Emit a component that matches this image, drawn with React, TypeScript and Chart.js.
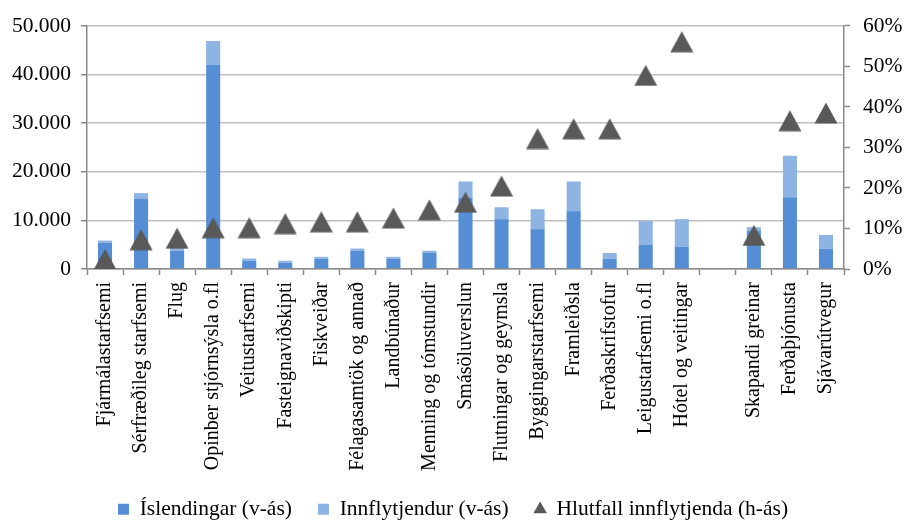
import React, { useEffect, useRef } from "react";
import { Chart, registerables } from "chart.js";

Chart.register(...registerables);

const categories: string[] = [
  "Fjármálastarfsemi",
  "Sérfræðileg starfsemi",
  "Flug",
  "Opinber stjórnsýsla o.fl",
  "Veitustarfsemi",
  "Fasteignaviðskipti",
  "Fiskveiðar",
  "Félagasamtök og annað",
  "Landbúnaður",
  "Menning og tómstundir",
  "Smásöluverslun",
  "Flutningar og geymsla",
  "Byggingarstarfsemi",
  "Framleiðsla",
  "Ferðaskrifstofur",
  "Leigustarfsemi o.fl",
  "Hótel og veitingar",
  "",
  "Skapandi greinar",
  "Ferðaþjónusta",
  "Sjávarútvegur",
];

const islendingar: (number | null)[] = [
  5400, 14400, 3800, 42000, 1700, 1300, 2100, 3800, 2100, 3300, 14700,
  10250, 8200, 11900, 2100, 4950, 4550, null, 7800, 14750, 4150,
];

const innflytjendur: (number | null)[] = [
  450, 1200, 500, 4900, 450, 400, 400, 400, 400, 450, 3300,
  2450, 4100, 6100, 1200, 4900, 5700, null, 800, 8550, 2850,
];

const hlutfall: (number | null)[] = [
  0.024, 0.0725, 0.076, 0.102, 0.102, 0.112, 0.1165, 0.1165, 0.126, 0.146, 0.165,
  0.205, 0.322, 0.346, 0.346, 0.478, 0.561, null, 0.083, 0.366, 0.385,
];

const leftTicks = { min: 0, max: 50000, step: 10000 };
const rightTicks = { min: 0, max: 0.6, step: 0.1 };

const seriesNames = [
  "Íslendingar (v-ás)",
  "Innflytjendur (v-ás)",
  "Hlutfall innflytjenda (h-ás)",
];

const DARK = "#558ED5";
const LIGHT = "#8DB4E2";
const TRI = "#595959";
const AXIS = "#898989";
const GRID = "#C0C0C0";
const FONT = "'Liberation Serif', 'Times New Roman', serif";

function makeTriangle(): HTMLCanvasElement {
  const c = document.createElement("canvas");
  c.width = 24;
  c.height = 22;
  const g = c.getContext("2d")!;
  g.fillStyle = TRI;
  g.beginPath();
  g.moveTo(12, 0.5);
  g.lineTo(23.5, 21.5);
  g.lineTo(0.5, 21.5);
  g.closePath();
  g.fill();
  return c;
}

function fmtThousands(v: number): string {
  return String(Math.round(v)).replace(/\B(?=(\d{3})+(?!\d))/g, ".");
}

export default function App() {
  const ref = useRef<HTMLCanvasElement | null>(null);

  useEffect(() => {
    if (!ref.current) return;
    const tri = makeTriangle();
    const chart = new Chart(ref.current, {
      type: "bar",
      data: {
        labels: categories,
        datasets: [
          {
            type: "bar",
            label: seriesNames[0],
            data: islendingar,
            backgroundColor: DARK,
            yAxisID: "y",
            stack: "s",
            order: 1,
            barPercentage: 0.39,
            categoryPercentage: 1,
          },
          {
            type: "bar",
            label: seriesNames[1],
            data: innflytjendur,
            backgroundColor: LIGHT,
            yAxisID: "y",
            stack: "s",
            order: 1,
            barPercentage: 0.39,
            categoryPercentage: 1,
          },
          {
            type: "line",
            label: seriesNames[2],
            data: hlutfall,
            yAxisID: "y1",
            showLine: false,
            pointStyle: tri as any,
            pointRadius: 12,
            pointHoverRadius: 12,
            backgroundColor: TRI,
            borderColor: TRI,
            order: 0,
          } as any,
        ],
      },
      options: {
        animation: false,
        responsive: true,
        maintainAspectRatio: false,
        layout: { padding: { top: 14, right: 0, left: 0, bottom: 0 } },
        plugins: {
          tooltip: { enabled: false },
          legend: {
            position: "bottom",
            labels: {
              font: { family: FONT, size: 21.5 },
              color: "#000",
              padding: 26,
              usePointStyle: true,
              boxWidth: 11,
              boxHeight: 11,
              generateLabels: (ch: any) =>
                ch.data.datasets.map((ds: any, i: number) => ({
                  text: ds.label,
                  fillStyle: i === 0 ? DARK : i === 1 ? LIGHT : TRI,
                  strokeStyle: i === 0 ? DARK : i === 1 ? LIGHT : TRI,
                  lineWidth: 0,
                  pointStyle: i === 2 ? "triangle" : "rect",
                  hidden: false,
                  datasetIndex: i,
                  fontColor: "#000",
                })),
            },
          },
        },
        scales: {
          x: {
            stacked: true,
            offset: true,
            grid: {
              display: true,
              offset: true,
              drawOnChartArea: false,
              drawTicks: true,
              tickLength: 6,
              tickColor: AXIS,
              tickWidth: 1.5,
            },
            border: { display: true, color: AXIS, width: 1.5 },
            ticks: {
              autoSkip: false,
              minRotation: 90,
              maxRotation: 90,
              padding: 7,
              color: "#000",
              font: { family: FONT, size: 20 },
            },
            afterFit: (s: any) => {
              s.height = 203.5;
            },
          },
          y: {
            stacked: true,
            position: "left",
            min: leftTicks.min,
            max: leftTicks.max,
            ticks: {
              stepSize: leftTicks.step,
              color: "#000",
              padding: 10,
              font: { family: FONT, size: 21.5 },
              callback: (v: any) => fmtThousands(Number(v)),
            },
            grid: {
              color: GRID,
              lineWidth: 1.5,
              borderDash: [9, 4],
              drawTicks: true,
              tickLength: 6,
              tickColor: AXIS,
              tickWidth: 1.5,
              tickBorderDash: [],
            } as any,
            border: { display: true, color: AXIS, width: 1.5 },
            afterFit: (s: any) => {
              s.width = 87;
            },
          },
          y1: {
            position: "right",
            min: rightTicks.min,
            max: rightTicks.max,
            ticks: {
              stepSize: rightTicks.step,
              color: "#000",
              padding: 13,
              font: { family: FONT, size: 21.5 },
              callback: (v: any) => Math.round(Number(v) * 100) + "%",
            },
            grid: {
              drawOnChartArea: false,
              drawTicks: true,
              tickLength: 6,
              tickColor: AXIS,
              tickWidth: 1.5,
            },
            border: { display: true, color: AXIS, width: 1.5 },
            afterFit: (s: any) => {
              s.width = 62;
            },
          },
        },
      },
    });
    return () => chart.destroy();
  }, []);

  return (
    <div
      style={{
        position: "absolute",
        left: 0,
        top: 0,
        width: 906,
        height: 530,
        background: "#fff",
      }}
    >
      <canvas ref={ref} />
    </div>
  );
}
